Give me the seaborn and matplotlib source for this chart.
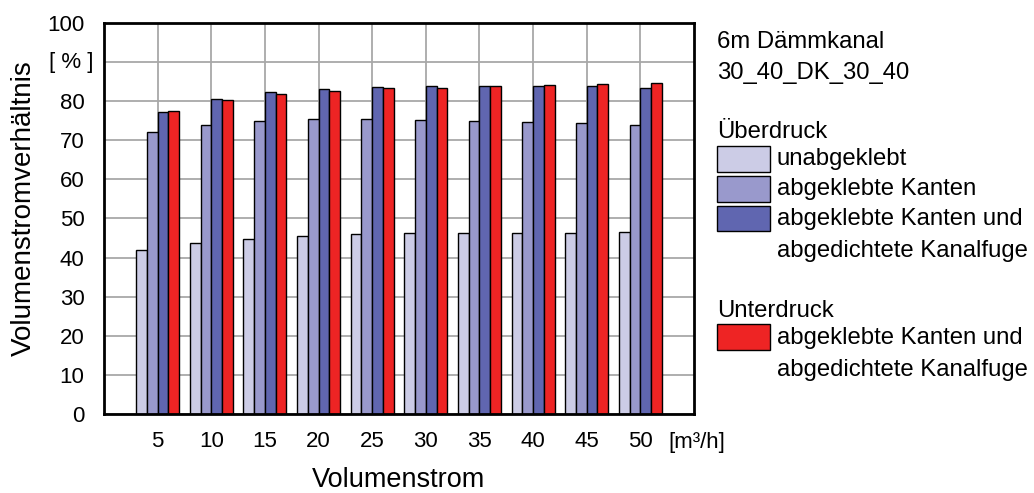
import numpy as np
import pandas as pd
import matplotlib
matplotlib.use("Agg")
import matplotlib.pyplot as plt
from matplotlib.patches import Rectangle
import seaborn as sns

# Volumenstrom categories [m³/h]
volumenstrom = ["5", "10", "15", "20", "25", "30", "35", "40", "45", "50"]

# Volumenstromverhältnis [%] per configuration
ueber_unabgeklebt = [42.0, 43.7, 44.8, 45.5, 46.0, 46.2, 46.4, 46.4, 46.4, 46.5]
ueber_kanten = [72.0, 74.0, 75.0, 75.4, 75.5, 75.3, 75.0, 74.8, 74.4, 74.0]
ueber_kanten_fuge = [77.2, 80.6, 82.3, 83.0, 83.6, 83.8, 84.0, 83.8, 83.8, 83.5]
unter_kanten_fuge = [77.6, 80.3, 81.8, 82.7, 83.3, 83.5, 84.0, 84.2, 84.5, 84.6]

y_ticks = list(range(0, 101, 10))
y_ticklabels = ["0", "10", "20", "30", "40", "50", "60", "70", "80", "", "100"]

series_names = ["Ü unabgeklebt", "Ü Kanten", "Ü Kanten+Fuge", "U Kanten+Fuge"]
series_colors = ["#ccccE6", "#9999cc", "#6066b0", "#ee2424"]

df = pd.concat(
    [
        pd.DataFrame({"Volumenstrom": volumenstrom, "Wert": vals, "Reihe": name})
        for name, vals in zip(
            series_names,
            [ueber_unabgeklebt, ueber_kanten, ueber_kanten_fuge, unter_kanten_fuge],
        )
    ],
    ignore_index=True,
)

sns.set_style("white")
plt.rcParams["font.family"] = ["Liberation Sans", "DejaVu Sans"]
plt.rcParams.update({
    "text.color": "black",
    "axes.labelcolor": "black",
    "xtick.color": "black",
    "ytick.color": "black",
})

W, H = 1034, 493
fig = plt.figure(figsize=(W / 100, H / 100), dpi=100)
ax = fig.add_axes([104 / W, 1 - 414 / H, (694 - 104) / W, (414 - 23) / H])

sns.barplot(
    data=df,
    x="Volumenstrom",
    y="Wert",
    hue="Reihe",
    order=volumenstrom,
    hue_order=series_names,
    palette=dict(zip(series_names, series_colors)),
    edgecolor="black",
    linewidth=1.0,
    width=0.8,
    saturation=1,
    legend=False,
    ax=ax,
)

ax.set_xlim(-1, len(volumenstrom))
ax.set_ylim(0, 100)
ax.set_axisbelow(True)
ax.grid(True, axis="both", color="#a8a8a8", linewidth=1.3)

for sp in ax.spines.values():
    sp.set_visible(True)
    sp.set_color("black")
    sp.set_linewidth(2.0)

ax.set_yticks(y_ticks)
ax.set_yticklabels(y_ticklabels)
ax.tick_params(axis="both", length=0, labelsize=16)
ax.tick_params(axis="y", pad=14)
ax.tick_params(axis="x", pad=12)

ax.text(-0.017, 90, "[ % ]", transform=ax.get_yaxis_transform(),
        ha="right", va="center", fontsize=16)
ax.text(1.005, -0.072, "[m³/h]", transform=ax.transAxes,
        ha="center", va="center", fontsize=16)

ax.set_xlabel("Volumenstrom", fontsize=19.5)
ax.xaxis.set_label_coords(0.5, -0.136)
ax.set_ylabel("Volumenstromverhältnis", fontsize=20)
ax.yaxis.set_label_coords(-0.113, 0.526)


def ftext(x, y, s, **kw):
    fig.text(x / W, 1 - y / H, s, ha="left", va="center", fontsize=17.2, **kw)


def swatch(y0, y1, color):
    fig.patches.append(
        Rectangle((717 / W, 1 - y1 / H), (770 - 717) / W, (y1 - y0) / H,
                  transform=fig.transFigure, facecolor=color,
                  edgecolor="black", linewidth=1.0)
    )


ftext(717, 42, "6m Dämmkanal")
ftext(717, 73, "30_40_DK_30_40")
ftext(717, 132, "Überdruck")
swatch(146, 172, series_colors[0])
ftext(777, 159, "unabgeklebt")
swatch(176, 202, series_colors[1])
ftext(777, 189, "abgeklebte Kanten")
swatch(206, 231, series_colors[2])
ftext(777, 219, "abgeklebte Kanten und")
ftext(777, 251, "abgedichtete Kanalfuge")
ftext(717, 311, "Unterdruck")
swatch(324, 350, series_colors[3])
ftext(777, 338, "abgeklebte Kanten und")
ftext(777, 370, "abgedichtete Kanalfuge")

fig.savefig("out.png", dpi=100)
